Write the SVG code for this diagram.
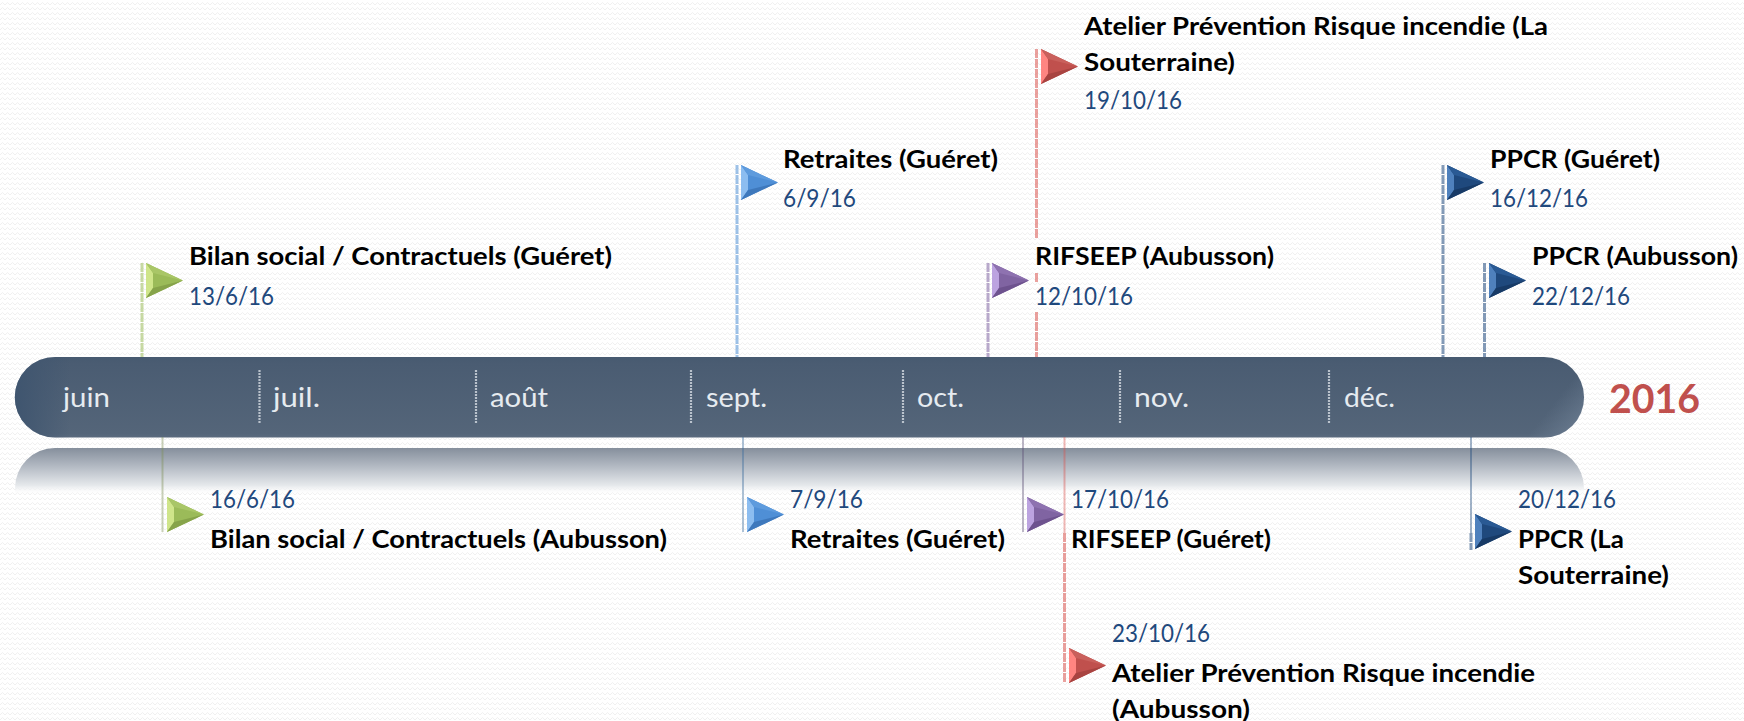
<svg xmlns="http://www.w3.org/2000/svg" width="1744" height="721" viewBox="0 0 1744 721">
<style>
text{font-family:Lato,"Open Sans",sans-serif}
.t{font-size:25px;font-weight:700;fill:#000}
.d{font-size:25px;fill:#1F497D}
.m{font-size:27px;fill:#E6EBF0}
.y{font-size:41px;font-weight:700;fill:#C0504D}
.tick{stroke:#CDD4DC;stroke-width:2.2;stroke-dasharray:2 1;opacity:.85}
.st{stroke-width:3;fill:none;stroke-opacity:.55;stroke-dasharray:9 1}
.lo{stroke-width:2;fill:none;stroke-opacity:.42}
</style>
<defs>
<pattern id="bg" width="10" height="10" patternUnits="userSpaceOnUse"><rect width="10" height="10" fill="#fff"/><path d="M0 5L2.5 2.5 5 5 7.500 2.5 10 5M0 10L2.5 7.5 5 10 7.500 7.5 10 10" fill="none" stroke="#F0F0F0" stroke-width="1"/></pattern>
<linearGradient id="bar" x1="0" y1="0" x2="0" y2="1"><stop offset="0" stop-color="#475A70"/><stop offset=".08" stop-color="#4A5C72"/><stop offset=".95" stop-color="#546579"/><stop offset="1" stop-color="#5A6A7E"/></linearGradient>
<linearGradient id="edgeL" x1="0" y1="0" x2="1" y2="0"><stop offset="0" stop-color="#3F556F"/><stop offset="1" stop-color="#3F556F" stop-opacity="0"/></linearGradient>
<linearGradient id="edgeR" x1="0" y1="0" x2="1" y2="1"><stop offset=".55" stop-color="#7A8CA2" stop-opacity="0"/><stop offset="1" stop-color="#8394A8"/></linearGradient>
<linearGradient id="ref" x1="0" y1="0" x2="0" y2="1"><stop offset="0" stop-color="#858F9C"/><stop offset=".35" stop-color="#AEB5BF"/><stop offset=".8" stop-color="#E6E9EC"/><stop offset="1" stop-color="#fff" stop-opacity="0"/></linearGradient>
<symbol id="fg" overflow="visible"><polygon points="0,0 37,17.500 0,35" fill="#9BBB59"/><polygon points="0,0 7,10 7,25 0,35" fill="#CFE58A"/><polygon points="0,0 37,17.500 7,10" fill="#A9C667"/><polygon points="0,35 37,17.500 7,25" fill="#86A34A"/></symbol>
<symbol id="fb" overflow="visible"><polygon points="0,0 37,17.500 0,35" fill="#4F8FD6"/><polygon points="0,0 7,10 7,25 0,35" fill="#8CBDF0"/><polygon points="0,0 37,17.500 7,10" fill="#5E9BDD"/><polygon points="0,35 37,17.500 7,25" fill="#3E78BC"/></symbol>
<symbol id="fp" overflow="visible"><polygon points="0,0 37,17.500 0,35" fill="#8064A2"/><polygon points="0,0 7,10 7,25 0,35" fill="#BCA3E0"/><polygon points="0,0 37,17.500 7,10" fill="#8E72B0"/><polygon points="0,35 37,17.500 7,25" fill="#6D528E"/></symbol>
<symbol id="fr" overflow="visible"><polygon points="0,0 37,17.500 0,35" fill="#C0504D"/><polygon points="0,0 7,10 7,25 0,35" fill="#FF8581"/><polygon points="0,0 37,17.500 7,10" fill="#C9605C"/><polygon points="0,35 37,17.500 7,25" fill="#A84340"/></symbol>
<symbol id="fd" overflow="visible"><polygon points="0,0 37,17.500 0,35" fill="#1F497D"/><polygon points="0,0 7,10 7,25 0,35" fill="#4F81BD"/><polygon points="0,0 37,17.500 7,10" fill="#2A5A94"/><polygon points="0,35 37,17.500 7,25" fill="#173A66"/></symbol>
</defs>
<rect id="background" width="1744" height="721" fill="url(#bg)"/>
<g id="reflection"><path d="M15 495V488A40 40 0 0 1 55 448H1544A40 40 0 0 1 1584 488V495Z" fill="url(#ref)"/></g>
<g id="timeline-bar">
<rect x="15" y="357" width="1569" height="80.500" rx="40" fill="url(#bar)"/>
<path d="M55 357A40 40 0 0 0 55 437.500H70V357Z" fill="url(#edgeL)"/>
<path d="M1544 357A40 40 0 0 1 1544 437.500H1520Z" fill="url(#edgeR)" opacity=".6"/>
<g id="ticks">
<line class="tick" x1="259.500" y1="370" x2="259.500" y2="424"/>
<line class="tick" x1="476" y1="370" x2="476" y2="424"/>
<line class="tick" x1="691" y1="370" x2="691" y2="424"/>
<line class="tick" x1="903" y1="370" x2="903" y2="424"/>
<line class="tick" x1="1120" y1="370" x2="1120" y2="424"/>
<line class="tick" x1="1329" y1="370" x2="1329" y2="424"/>
</g>
<text class="m" x="63" y="407" textLength="47" lengthAdjust="spacingAndGlyphs">juin</text>
<text class="m" x="273" y="407" textLength="47" lengthAdjust="spacingAndGlyphs">juil.</text>
<text class="m" x="490" y="407" textLength="58" lengthAdjust="spacingAndGlyphs">août</text>
<text class="m" x="706" y="407" textLength="61" lengthAdjust="spacingAndGlyphs">sept.</text>
<text class="m" x="917" y="407" textLength="47" lengthAdjust="spacingAndGlyphs">oct.</text>
<text class="m" x="1134" y="407" textLength="55" lengthAdjust="spacingAndGlyphs">nov.</text>
<text class="m" x="1344" y="407" textLength="51" lengthAdjust="spacingAndGlyphs">déc.</text>
</g>
<text id="year" class="y" x="1609" y="413" textLength="91" lengthAdjust="spacingAndGlyphs">2016</text>
<g id="connectors">
<line class="st" x1="142" y1="263" x2="142" y2="357" stroke="#9BBB59"/>
<line class="lo" x1="162.500" y1="437" x2="162.500" y2="532" stroke="#7F8F55"/>
<line class="st" x1="737" y1="165" x2="737" y2="357" stroke="#4F8FD6"/>
<line class="lo" x1="743" y1="437" x2="743" y2="532" stroke="#3F6E9E"/>
<line class="st" x1="988" y1="263" x2="988" y2="357" stroke="#8064A2"/>
<line class="lo" x1="1023" y1="437" x2="1023" y2="532" stroke="#5F5478"/>
<line class="st" x1="1036.500" y1="49" x2="1036.500" y2="238" stroke="#D9534F"/>
<line class="st" x1="1036.500" y1="273" x2="1036.500" y2="283" stroke="#D9534F"/>
<line class="st" x1="1036.500" y1="312" x2="1036.500" y2="357" stroke="#D9534F"/>
<line class="lo" x1="1064.500" y1="437" x2="1064.500" y2="533" stroke="#D9534F"/>
<line class="st" x1="1064.500" y1="533" x2="1064.500" y2="682" stroke="#D9534F"/>
<line class="st" x1="1443" y1="165" x2="1443" y2="357" stroke="#1F497D"/>
<line class="st" x1="1484.500" y1="263" x2="1484.500" y2="357" stroke="#1F497D"/>
<line class="lo" x1="1471" y1="437" x2="1471" y2="533" stroke="#1F497D"/>
<line class="st" x1="1471" y1="533" x2="1471" y2="550" stroke="#1F497D"/>
</g>
<g id="n1"><use href="#fg" x="146" y="263"/><text class="t" x="189" y="265" textLength="423" lengthAdjust="spacingAndGlyphs">Bilan social / Contractuels (Guéret)</text><text class="d" x="189" y="305" textLength="85" lengthAdjust="spacingAndGlyphs">13/6/16</text></g>
<g id="n2"><use href="#fg" x="167" y="497"/><text class="d" x="210" y="508" textLength="85" lengthAdjust="spacingAndGlyphs">16/6/16</text><text class="t" x="210" y="548" textLength="457" lengthAdjust="spacingAndGlyphs">Bilan social / Contractuels (Aubusson)</text></g>
<g id="n3"><use href="#fb" x="741" y="165"/><text class="t" x="783" y="168" textLength="215" lengthAdjust="spacingAndGlyphs">Retraites (Guéret)</text><text class="d" x="783" y="207" textLength="73" lengthAdjust="spacingAndGlyphs">6/9/16</text></g>
<g id="n4"><use href="#fb" x="747" y="497"/><text class="d" x="790" y="508" textLength="73" lengthAdjust="spacingAndGlyphs">7/9/16</text><text class="t" x="790" y="548" textLength="215" lengthAdjust="spacingAndGlyphs">Retraites (Guéret)</text></g>
<g id="n5"><use href="#fp" x="992" y="263"/><text class="t" x="1035" y="265" textLength="239" lengthAdjust="spacingAndGlyphs">RIFSEEP (Aubusson)</text><text class="d" x="1035" y="305" textLength="98" lengthAdjust="spacingAndGlyphs">12/10/16</text></g>
<g id="n6"><use href="#fp" x="1027" y="497"/><text class="d" x="1071" y="508" textLength="98" lengthAdjust="spacingAndGlyphs">17/10/16</text><text class="t" x="1071" y="548" textLength="200" lengthAdjust="spacingAndGlyphs">RIFSEEP (Guéret)</text></g>
<g id="n7"><use href="#fr" x="1041" y="49"/><text class="t" x="1084" y="35" textLength="464" lengthAdjust="spacingAndGlyphs">Atelier Prévention Risque incendie (La</text><text class="t" x="1084" y="71" textLength="151" lengthAdjust="spacingAndGlyphs">Souterraine)</text><text class="d" x="1084" y="109" textLength="98" lengthAdjust="spacingAndGlyphs">19/10/16</text></g>
<g id="n8"><use href="#fr" x="1069" y="648"/><text class="d" x="1112" y="642" textLength="98" lengthAdjust="spacingAndGlyphs">23/10/16</text><text class="t" x="1112" y="682" textLength="423" lengthAdjust="spacingAndGlyphs">Atelier Prévention Risque incendie</text><text class="t" x="1112" y="718" textLength="138" lengthAdjust="spacingAndGlyphs">(Aubusson)</text></g>
<g id="n9"><use href="#fd" x="1447" y="165"/><text class="t" x="1490" y="168" textLength="170" lengthAdjust="spacingAndGlyphs">PPCR (Guéret)</text><text class="d" x="1490" y="207" textLength="98" lengthAdjust="spacingAndGlyphs">16/12/16</text></g>
<g id="n10"><use href="#fd" x="1489" y="263"/><text class="t" x="1532" y="265" textLength="206" lengthAdjust="spacingAndGlyphs">PPCR (Aubusson)</text><text class="d" x="1532" y="305" textLength="98" lengthAdjust="spacingAndGlyphs">22/12/16</text></g>
<g id="n11"><use href="#fd" x="1475" y="514"/><text class="d" x="1518" y="508" textLength="98" lengthAdjust="spacingAndGlyphs">20/12/16</text><text class="t" x="1518" y="548" textLength="106" lengthAdjust="spacingAndGlyphs">PPCR (La</text><text class="t" x="1518" y="584" textLength="151" lengthAdjust="spacingAndGlyphs">Souterraine)</text></g>
</svg>
